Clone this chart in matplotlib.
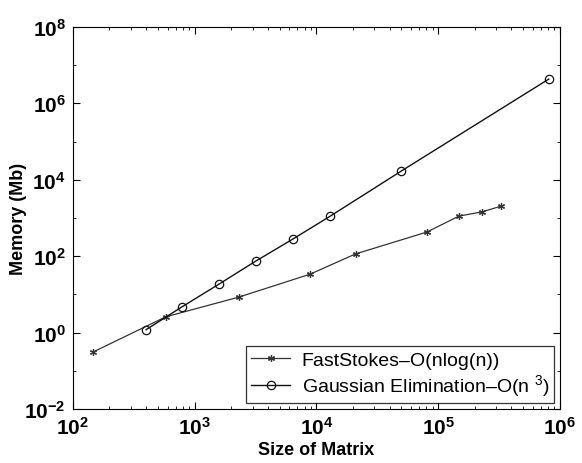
import matplotlib
matplotlib.use("Agg")
import matplotlib.pyplot as plt
from matplotlib.ticker import LogLocator, NullFormatter

plt.rcParams['font.family'] = ['Liberation Sans', 'DejaVu Sans']
plt.rcParams['mathtext.fontset'] = 'custom'
plt.rcParams['mathtext.rm'] = 'Liberation Sans'
plt.rcParams['mathtext.it'] = 'Liberation Sans'
plt.rcParams['mathtext.bf'] = 'Liberation Sans:bold'

# values
fast_n = [146, 580, 2300, 8900, 21000, 81000, 148000, 230000, 330000]
fast_mem = [0.31, 2.6, 8.5, 34, 115, 430, 1120, 1450, 2050]

gauss_n = [400, 785, 1585, 3170, 6400, 12900, 50000, 810000]
gauss_mem = [1.2, 4.7, 18.6, 74, 280, 1100, 17000, 4.3e6]

fig = plt.figure(figsize=(5.82, 4.64), dpi=100)
ax = fig.add_axes([0.125, 0.116, 0.837, 0.824])

ax.loglog(fast_n, fast_mem, '-', color='#333333', lw=0.9, marker=(6, 2, 0),
          ms=5, mew=0.9, label='FastStokes\u2013O(nlog(n))')
ax.loglog(gauss_n, gauss_mem, '-', color='#111111', lw=1.0, marker='o',
          ms=6, mfc='none', mew=0.9, label='Gaussian Elimination\u2013O(n $^{3}$)')

ax.set_xlim(1e2, 1e6)
ax.set_ylim(1e-2, 1e8)
ax.set_xticks([1e2, 1e3, 1e4, 1e5, 1e6])
ax.xaxis.set_minor_locator(LogLocator(base=10, subs=range(2, 10)))
ax.xaxis.set_minor_formatter(NullFormatter())
ax.set_yticks([1e-2, 1e0, 1e2, 1e4, 1e6, 1e8])
ax.yaxis.set_minor_locator(LogLocator(base=10, subs=[1.0], numticks=20))
ax.yaxis.set_minor_formatter(NullFormatter())
ax.tick_params(which='both', direction='in', top=True, right=True)
ax.tick_params(which='major', length=5, labelsize=15, pad=5)
ax.tick_params(which='minor', length=2.5)
for lab in ax.get_xticklabels() + ax.get_yticklabels():
    lab.set_fontweight('bold')

ax.set_xlabel('Size of Matrix', fontsize=13, fontweight='bold', labelpad=2)
ax.set_ylabel('Memory (Mb)', fontsize=13, fontweight='bold', labelpad=-2)

leg = ax.legend(loc='lower right', fontsize=14, frameon=True, fancybox=False,
                edgecolor='black', borderaxespad=0.3, handlelength=2.0,
                labelspacing=0.2, borderpad=0.25, handletextpad=0.6)
leg.get_frame().set_linewidth(0.9)

fig.savefig('out.png', dpi=100)
